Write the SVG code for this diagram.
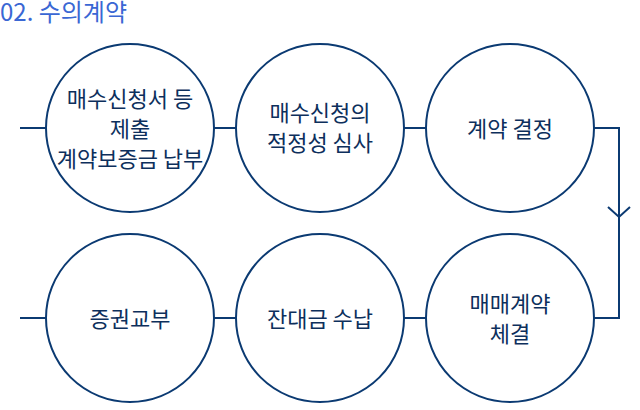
<svg xmlns="http://www.w3.org/2000/svg" width="640" height="410" viewBox="0 0 640 410">
<style>
.n{fill:#fff;stroke:#0b3a72;stroke-width:2}
.c{fill:none;stroke:#0b3a72;stroke-width:2}
.t{font-family:"Noto Sans CJK KR","Noto Sans",sans-serif;font-size:22px;fill:#0d2f5c;text-anchor:middle;dominant-baseline:central}
.h{font-family:"Noto Sans CJK KR","Noto Sans",sans-serif;font-size:24px;fill:#3a67d4}
</style>
<text class="h" x="0" y="21">02. 수의계약</text>
<g id="connectors">
<line class="c" x1="20" y1="128" x2="46" y2="128"/>
<line class="c" x1="214" y1="128" x2="236" y2="128"/>
<line class="c" x1="404" y1="128" x2="426" y2="128"/>
<polyline class="c" points="594,128 619,128 619,318 594,318"/>
<polyline class="c" points="608,207 619,217 630,207"/>
<line class="c" x1="404" y1="318" x2="426" y2="318"/>
<line class="c" x1="214" y1="318" x2="236" y2="318"/>
<line class="c" x1="20" y1="318" x2="46" y2="318"/>
</g>
<g id="n1"><circle class="n" cx="130" cy="128" r="84"/>
<text class="t" x="130" y="97">매수신청서 등</text><text class="t" x="130" y="127">제출</text><text class="t" x="130" y="157">계약보증금 납부</text></g>
<g id="n2"><circle class="n" cx="320" cy="128" r="84"/>
<text class="t" x="320" y="111">매수신청의</text><text class="t" x="320" y="141">적정성 심사</text></g>
<g id="n3"><circle class="n" cx="510" cy="128" r="84"/>
<text class="t" x="510" y="127">계약 결정</text></g>
<g id="n4"><circle class="n" cx="510" cy="318" r="84"/>
<text class="t" x="510" y="302">매매계약</text><text class="t" x="510" y="332">체결</text></g>
<g id="n5"><circle class="n" cx="320" cy="318" r="84"/>
<text class="t" x="320" y="317">잔대금 수납</text></g>
<g id="n6"><circle class="n" cx="130" cy="318" r="84"/>
<text class="t" x="130" y="317">증권교부</text></g>
</svg>
